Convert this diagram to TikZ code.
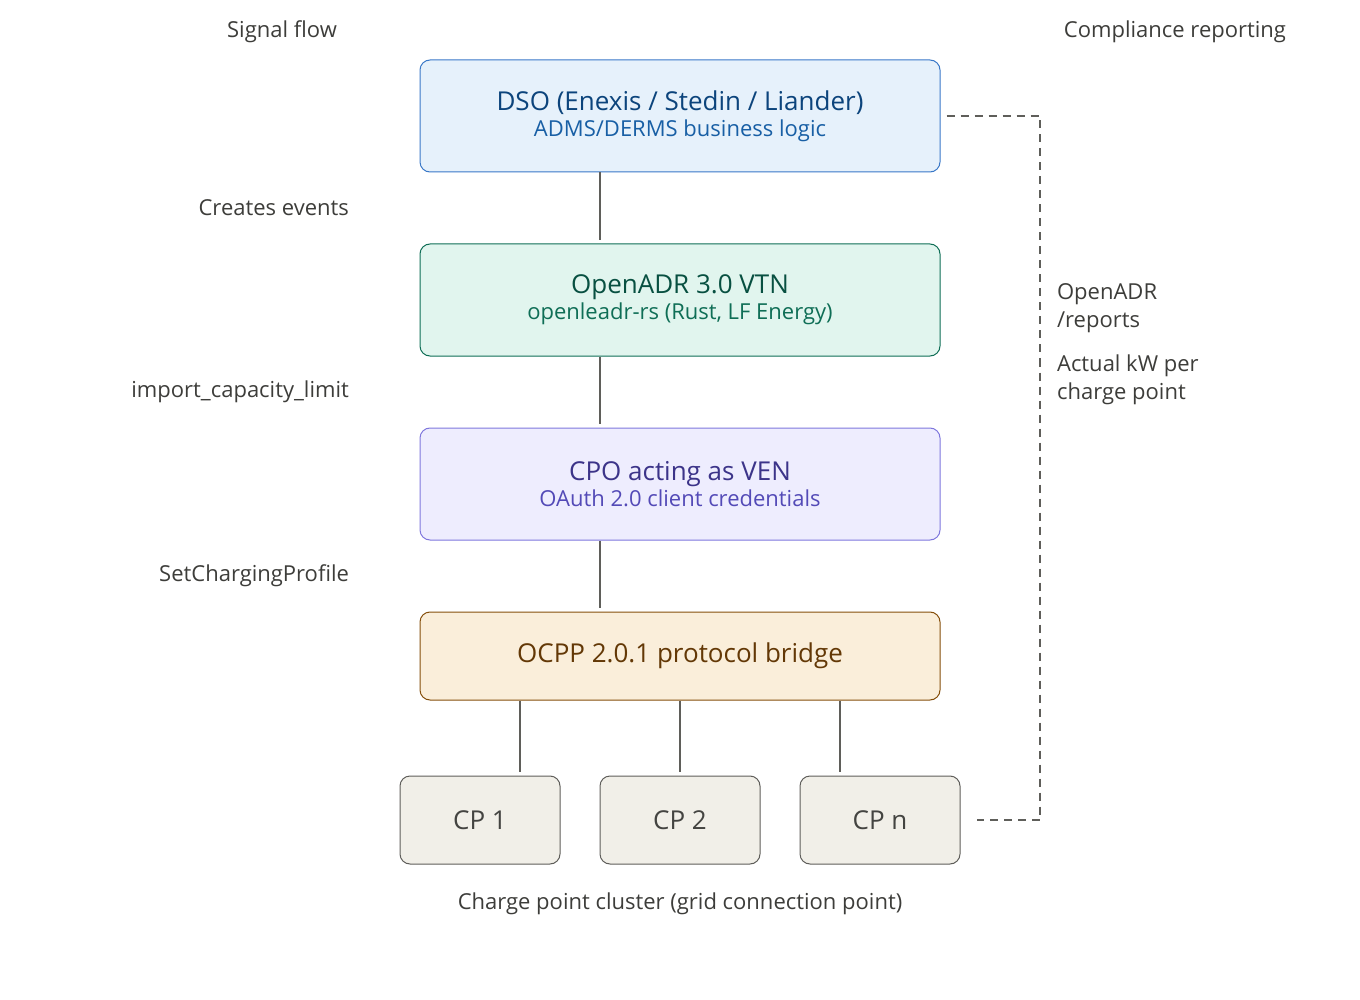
\documentclass[tikz,border=0pt]{standalone}
\usepackage{fontspec}
\setmainfont{Open Sans}
\usepackage{xcolor}
\usetikzlibrary{positioning}
\definecolor{dsofill}{HTML}{E6F1FB}\definecolor{dsoline}{HTML}{3A78C8}
\definecolor{dsotext}{HTML}{0C447C}\definecolor{dsosub}{HTML}{185FA5}
\definecolor{vtnfill}{HTML}{E1F5EE}\definecolor{vtnline}{HTML}{0F6E56}
\definecolor{vtntext}{HTML}{085041}\definecolor{vtnsub}{HTML}{0F6E56}
\definecolor{venfill}{HTML}{EEEDFE}\definecolor{venline}{HTML}{7F77DD}
\definecolor{ventext}{HTML}{3C3489}\definecolor{vensub}{HTML}{534AB7}
\definecolor{brfill}{HTML}{FAEEDA}\definecolor{brline}{HTML}{854F0B}
\definecolor{brtext}{HTML}{633806}
\definecolor{cpfill}{HTML}{F1EFE8}\definecolor{cpline}{HTML}{5F5E5A}
\definecolor{cptext}{HTML}{444441}\definecolor{note}{HTML}{3D3D3A}

\tikzset{
  layer/.style={draw, rounded corners=5pt, line width=0.5pt, minimum width=260pt, align=center},
  cp/.style={draw=cpline, fill=cpfill, text=cptext, rounded corners=5pt, line width=0.5pt,
    minimum width=80pt, minimum height=44pt, font=\fontsize{13}{15}\selectfont},
  title/.style={font=\fontsize{13}{16}\selectfont},
  sub/.style={font=\fontsize{11}{14}\selectfont},
  lbl/.style={text=note, font=\fontsize{11}{14}\selectfont},
  link/.style={draw=cpline, line width=1pt},
}

\begin{document}
\begin{tikzpicture}[x=0.5pt,y=-0.5pt]
  \useasboundingbox (0,0) rectangle (1360,1000);
  % layers
  \node[layer, draw=dsoline, fill=dsofill, minimum height=56pt] (dso) at (680,116)
    {\textcolor{dsotext}{\fontsize{13}{16}\selectfont DSO (Enexis / Stedin / Liander)}\\[1pt]
     \textcolor{dsosub}{\fontsize{11}{14}\selectfont ADMS/DERMS business logic}};
  \node[layer, draw=vtnline, fill=vtnfill, minimum height=56pt] (vtn) at (680,300)
    {\textcolor{vtntext}{\fontsize{13}{16}\selectfont OpenADR 3.0 VTN}\\[1pt]
     \textcolor{vtnsub}{\fontsize{11}{14}\selectfont openleadr-rs (Rust, LF Energy)}};
  \node[layer, draw=venline, fill=venfill, minimum height=56pt] (ven) at (680,484)
    {\textcolor{ventext}{\fontsize{13}{16}\selectfont CPO acting as VEN}\\[1pt]
     \textcolor{vensub}{\fontsize{11}{14}\selectfont OAuth 2.0 client credentials}};
  \node[layer, draw=brline, fill=brfill, text=brtext, minimum height=44pt, title] (bridge) at (680,656)
    {OCPP 2.0.1 protocol bridge};
  % charge points
  \node[cp] (cp1) at (480,820) {CP 1};
  \node[cp] (cp2) at (680,820) {CP 2};
  \node[cp] (cpn) at (880,820) {CP n};
  % links
  \draw[link] (dso.south -| 600,0) -- (600,240);
  \draw[link] (vtn.south -| 600,0) -- (600,424);
  \draw[link] (ven.south -| 600,0) -- (600,608);
  \draw[link] (bridge.south -| 520,0) -- (520,772);
  \draw[link] (bridge.south) -- (680,772);
  \draw[link] (bridge.south -| 840,0) -- (840,772);
  % reporting path
  \coordinate (rtop) at (1040,116);
  \coordinate (rbot) at (1040,820);
  \draw[draw=cpline, line width=1pt, dash pattern=on 4pt off 3pt]
    ([xshift=3pt]dso.east) -- (rtop) -- (rbot) -- ([xshift=8pt]cpn.east);
  % labels
  \node[lbl] (sigflow) at (282,32) {Signal flow};
  \node[lbl] (comprep) at (1175,32) {Compliance reporting};
  \node[lbl, anchor=east] (ev) at (356,208) {Creates events};
  \node[lbl, anchor=east] (lim) at (356,392) {import\_capacity\_limit};
  \node[lbl, anchor=east] (prof) at (356,576) {SetChargingProfile};
  \node[lbl, anchor=west, align=left] (rep) at (1050,308) {OpenADR\\/reports};
  \node[lbl, anchor=west, align=left] (kw) at (1050,380) {Actual kW per\\charge point};
  \node[lbl] (cluster) at (680,904) {Charge point cluster (grid connection point)};
\end{tikzpicture}
\end{document}
